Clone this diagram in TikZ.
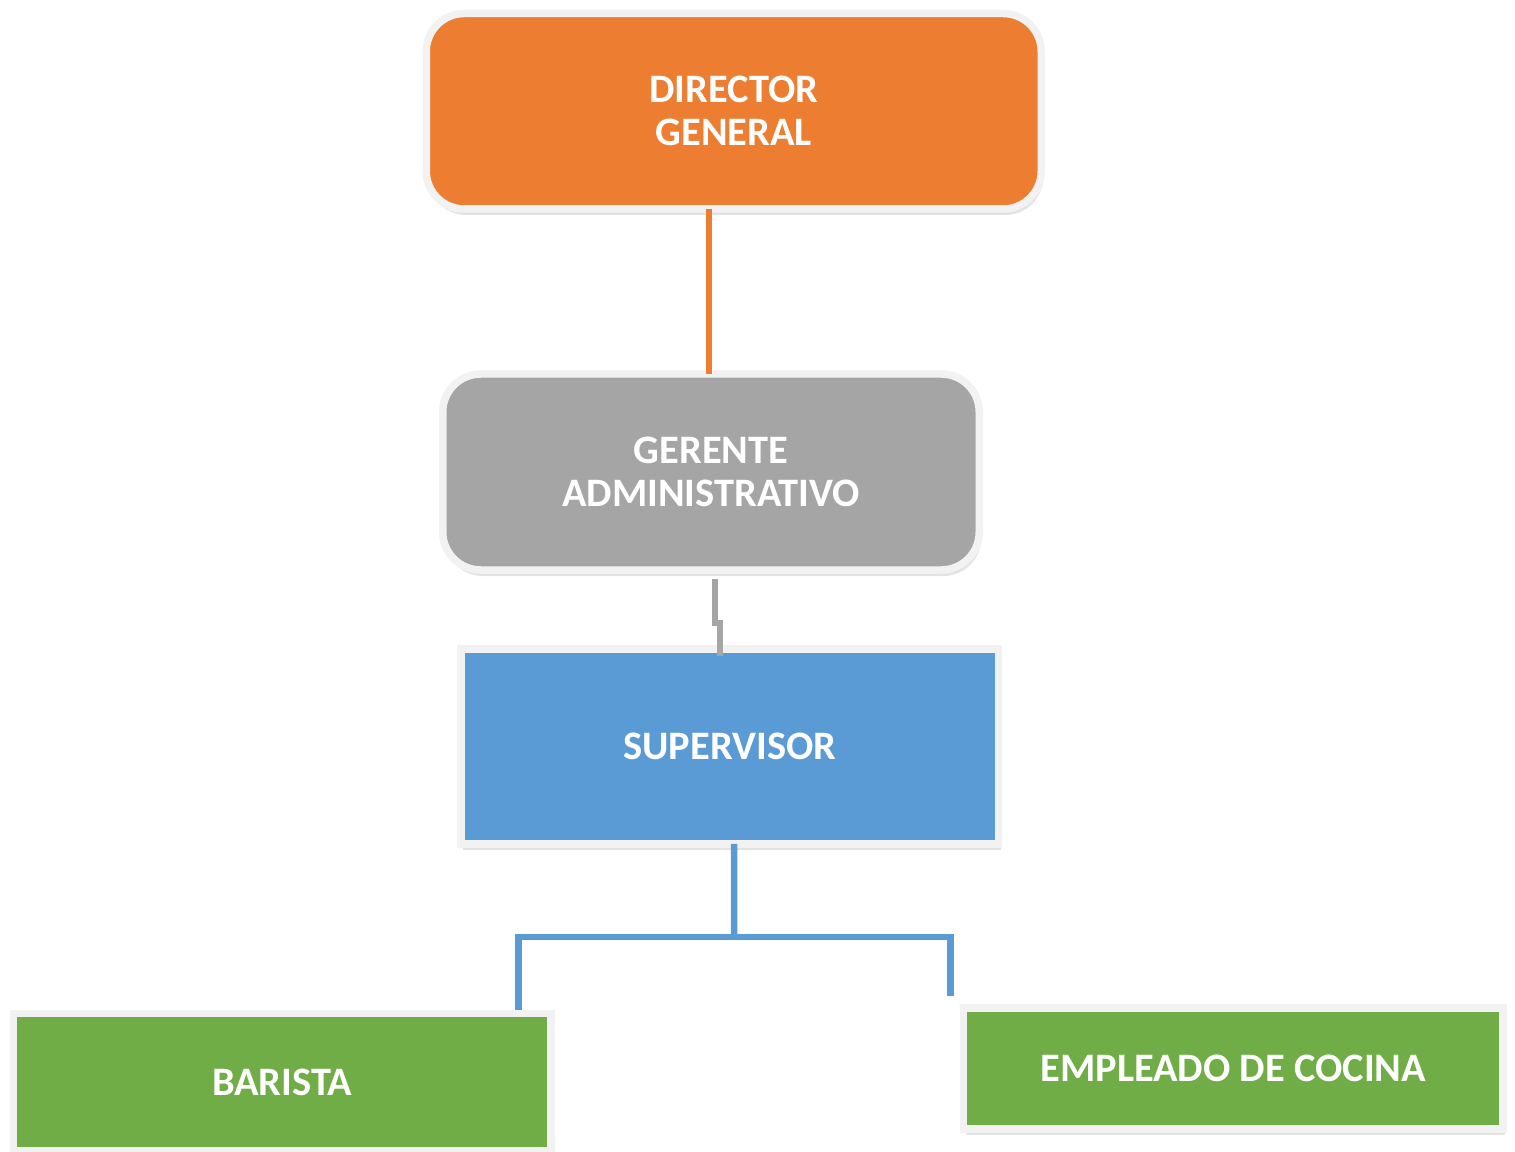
\documentclass[tikz,border=0pt]{standalone}
\usepackage{fontspec}
\setmainfont{Carlito}
\usetikzlibrary{positioning,calc,shadows}
\definecolor{cOrange}{HTML}{ED7D31}
\definecolor{cGray}{HTML}{A5A5A5}
\definecolor{cBlue}{HTML}{5B9BD5}
\definecolor{cGreen}{HTML}{70AD47}
\definecolor{cRim}{HTML}{F2F2F2}
\tikzset{
	font=\fontsize{11.5}{12.2}\selectfont\bfseries,
	box/.style={draw=cRim, line width=0.075cm, text=white, align=center, inner sep=0pt,
		drop shadow={opacity=0.22, shadow xshift=0.02cm, shadow yshift=-0.06cm}},
	link/.style={line width=0.065cm}
}

\begin{document}
\begin{tikzpicture}
	\useasboundingbox (0,0) rectangle (15.15,-11.52);
	\begin{scope}
		\node[box, fill=cOrange, rounded corners=0.38cm, minimum width=6.15cm, minimum height=1.955cm] (dir) at (7.3375, -1.1125) {DIRECTOR\\GENERAL};
		\node[box, fill=cGray, rounded corners=0.38cm, minimum width=5.365cm, minimum height=1.96cm] (ger) at (7.11, -4.72) {GERENTE\\ADMINISTRATIVO};
		\node[box, fill=cBlue, minimum width=5.375cm, minimum height=1.95cm] (sup) at (7.2975, -7.465) {SUPERVISOR};
		\node[box, fill=cGreen, minimum width=5.375cm, minimum height=1.375cm] (bar) at (2.8225, -10.8225) {BARISTA};
		\node[box, fill=cGreen, minimum width=5.395cm, minimum height=1.21cm] (emp) at (12.3325, -10.685) {EMPLEADO DE COCINA};

		\coordinate (fork) at (7.34, -9.37);

		\draw[link, cOrange] ([xshift=-0.2475cm, yshift=0.04cm]dir.south) -- ([xshift=-0.02cm, yshift=-0.04cm]ger.north);
		\draw[link, cGray] ([xshift=0.04cm, yshift=-0.05cm]ger.south) -- ++(0,-0.44) -| ([xshift=-0.1cm, yshift=-0.11cm]sup.north);
		\draw[link, cBlue] ([xshift=0.0425cm, yshift=0.04cm]sup.south) -- (fork);
		\draw[link, cBlue] ([xshift=2.36cm]bar.north) |- (fork) -| ([xshift=-2.83cm, yshift=0.08cm]emp.north);
	\end{scope}
\end{tikzpicture}
\end{document}
